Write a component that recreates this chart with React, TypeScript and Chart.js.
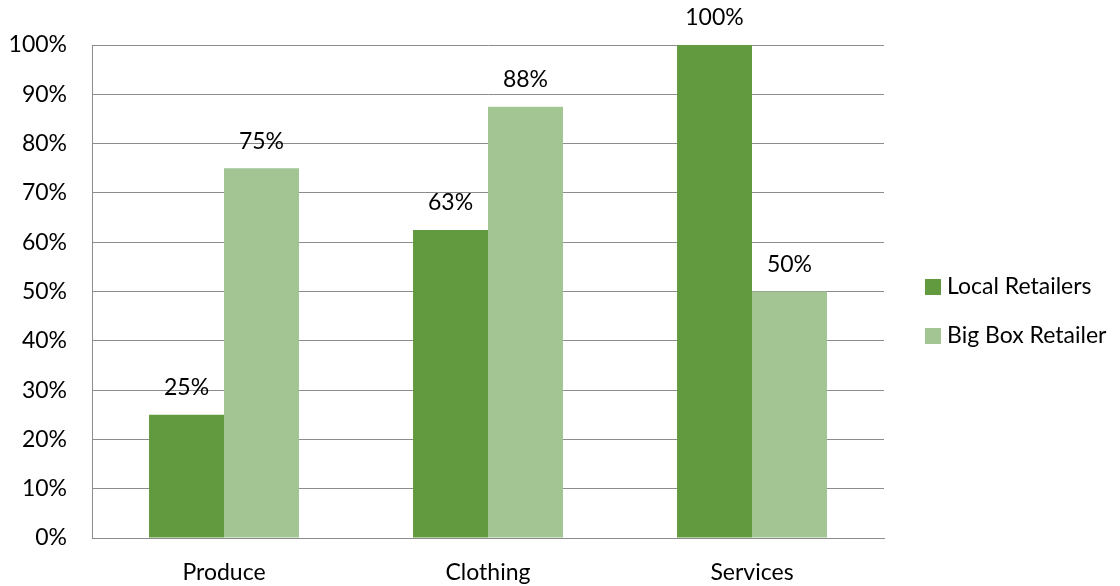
import React, { useEffect, useRef } from "react";
import { Chart, registerables } from "chart.js";

Chart.register(...registerables);

const categories = ["Produce", "Clothing", "Services"];
const localRetailers = [25, 62.5, 100];
const bigBoxRetailer = [75, 87.5, 50];
const localLabels = ["25%", "63%", "100%"];
const bigBoxLabels = ["75%", "88%", "50%"];
const seriesNames = ["Local Retailers", "Big Box Retailer"];
const seriesColors = ["#629b3f", "#a2c593"];

const FONT = "Lato, 'Open Sans', sans-serif";
const FS = 23;

const labelPlugin = {
  id: "barLabels",
  afterDatasetsDraw(chart: any) {
    const ctx = chart.ctx;
    const all = [localLabels, bigBoxLabels];
    ctx.save();
    ctx.font = `${FS}px ${FONT}`;
    ctx.fillStyle = "#000";
    ctx.textAlign = "center";
    ctx.textBaseline = "middle";
    chart.data.datasets.forEach((_: any, di: number) => {
      const meta = chart.getDatasetMeta(di);
      meta.data.forEach((bar: any, i: number) => {
        ctx.fillText(all[di][i], bar.x, bar.y - 27);
      });
    });
    // custom legend
    seriesNames.forEach((name, i) => {
      const y = 287 + i * 49;
      ctx.fillStyle = seriesColors[i];
      ctx.fillRect(925, y - 8, 16, 16);
      ctx.fillStyle = "#000";
      ctx.textAlign = "left";
      ctx.fillText(name, 947, y);
    });
    ctx.restore();
  },
};

export default function App() {
  const ref = useRef<HTMLCanvasElement>(null);
  useEffect(() => {
    const chart = new Chart(ref.current!, {
      type: "bar",
      data: {
        labels: categories,
        datasets: [
          { label: seriesNames[0], data: localRetailers, backgroundColor: seriesColors[0] },
          { label: seriesNames[1], data: bigBoxRetailer, backgroundColor: seriesColors[1] },
        ],
      },
      options: {
        animation: false,
        responsive: false,
        maintainAspectRatio: false,
        layout: { padding: { top: 45, right: 236, left: 0, bottom: 0 } },
        datasets: { bar: { barPercentage: 1, categoryPercentage: 0.568 } },
        plugins: { legend: { display: false }, tooltip: { enabled: false }, title: { display: false } },
        scales: {
          x: {
            grid: { display: false, drawTicks: false },
            border: { color: "#8c8c8c", width: 1 },
            ticks: { color: "#000", font: { family: FONT, size: FS }, padding: 21 },
            afterFit(scale: any) { scale.height = 48; },
          },
          y: {
            min: 0,
            max: 100,
            grid: { color: "#8c8c8c", drawTicks: false },
            border: { color: "#8c8c8c", width: 1 },
            ticks: {
              stepSize: 10,
              color: "#000",
              font: { family: FONT, size: FS },
              padding: 25,
              callback: (v: any) => `${v}%`,
            },
            afterFit(scale: any) { scale.width = 92; },
          },
        },
      },
      plugins: [labelPlugin],
    });
    return () => chart.destroy();
  }, []);
  return (
    <div style={{ position: "fixed", left: 0, top: 0, width: 1120, height: 586, background: "#fff" }}>
      <canvas ref={ref} width={1120} height={586} style={{ width: 1120, height: 586 }} />
    </div>
  );
}
